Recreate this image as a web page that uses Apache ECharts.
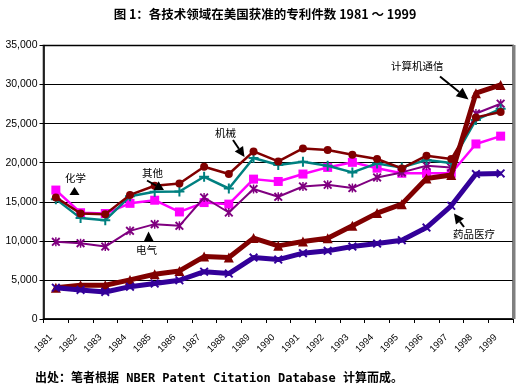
<!DOCTYPE html>
<html>
<head>
<meta charset="utf-8">
<script src="https://cdn.jsdelivr.net/npm/echarts@6/dist/echarts.min.js"></script>
<style>html,body{margin:0;padding:0;background:#fff;}#c{width:520px;height:390px;}</style>
</head>
<body>
<div id="c"></div>
<script>
var years = ['1981','1982','1983','1984','1985','1986','1987','1988','1989','1990','1991','1992','1993','1994','1995','1996','1997','1998','1999'];
var yTicks = [0, 5000, 10000, 15000, 20000, 25000, 30000, 35000];
var chemical = [16500, 13600, 13500, 14800, 15200, 13700, 14900, 14700, 17900, 17600, 18550, 19400, 20050, 19300, 18650, 18650, 18650, 22400, 23400];
var mechanical = [15560, 13500, 13420, 15880, 17050, 17350, 19490, 18550, 21450, 20170, 21830, 21620, 21020, 20470, 19270, 20900, 20470, 25800, 26500];
var others = [15340, 12910, 12650, 15700, 16280, 16320, 18200, 16700, 20600, 19700, 20130, 19610, 18760, 19910, 19400, 20340, 19960, 25470, 26900];
var electrical = [9870, 9700, 9270, 11280, 12140, 11920, 15550, 13630, 16630, 15640, 16960, 17180, 16750, 18120, 18760, 19610, 19400, 26300, 27550];
var computers = [4010, 4320, 4320, 5000, 5730, 6150, 7990, 7860, 10350, 9360, 9910, 10340, 11920, 13550, 14700, 17990, 18420, 28900, 29950];
var drugs = [4010, 3720, 3460, 4140, 4530, 4960, 6060, 5810, 7860, 7600, 8420, 8720, 9270, 9650, 10090, 11700, 14490, 18550, 18630];

var symX = 'path://M0,1.5 L1.5,0 L5,3.5 L8.5,0 L10,1.5 L6.5,5 L10,8.5 L8.5,10 L5,6.5 L1.5,10 L0,8.5 L3.5,5 Z';
var symPlus = 'path://M4,0 H6 V4 H10 V6 H6 V10 H4 V6 H0 V4 H4 Z';
var symStar = 'path://M0,1.5 L1.5,0 L5,3.5 L8.5,0 L10,1.5 L6.5,5 L10,8.5 L8.5,10 L5,6.5 L1.5,10 L0,8.5 L3.5,5 Z M4.2,0 H5.8 V10 H4.2 Z';

function arrow(x1, y1, x2, y2, L, W) {
  var dx = x2 - x1, dy = y2 - y1, d = Math.sqrt(dx*dx + dy*dy);
  var ux = dx / d, uy = dy / d, nx = -uy, ny = ux;
  var bx = x2 - L*ux, by = y2 - L*uy;
  return [
    {type: 'line', shape: {x1: x1, y1: y1, x2: bx, y2: by}, style: {stroke: '#000', lineWidth: 2}, z: 100},
    {type: 'polygon', shape: {points: [[x2, y2], [bx + W*nx, by + W*ny], [bx - W*nx, by - W*ny]]}, style: {fill: '#000'}, z: 100}
  ];
}
function tri(tx, ty, x1, y1, x2, y2) {
  return {type: 'polygon', shape: {points: [[tx, ty], [x1, y1], [x2, y2]]}, style: {fill: '#000'}, z: 100};
}
function label(t, x, y) {
  return {type: 'text', x: x, y: y, style: {text: t, fill: '#000', font: '10.5px "Noto Sans CJK SC"', textAlign: 'left', textVerticalAlign: 'middle'}, z: 100};
}

var graphics = [
  {type: 'text', x: 265, y: 14, style: {text: '图 1：各技术领域在美国获准的专利件数 1981 ～ 1999', fill: '#000', font: 'bold 12.5px "Noto Sans CJK SC"', textAlign: 'center', textVerticalAlign: 'middle'}},
  {type: 'text', x: 35, y: 379, style: {text: '出处：笔者根据 NBER Patent Citation Database 计算而成。', fill: '#000', font: 'bold 12px "DejaVu Sans Mono", "Noto Sans CJK SC"', textAlign: 'left', textVerticalAlign: 'middle'}},
  label('化学', 65, 178),
  tri(74.5, 187, 69.5, 195, 79.5, 195),
  label('其他', 142, 173),
  label('机械', 215, 133),
  label('电气', 136, 250),
  tri(148.5, 231.5, 144, 241, 153.5, 241),
  label('计算机通信', 391, 66),
  label('药品医疗', 453, 234),
  {type: 'line', shape: {x1: 514, y1: 45, x2: 514, y2: 319}, style: {stroke: '#808080', lineWidth: 3}, z: 50}
];
graphics = graphics.concat(arrow(147, 180.5, 164, 190, 9, 5));
graphics = graphics.concat(arrow(233, 140, 244.5, 157, 10, 5));
graphics = graphics.concat(arrow(440, 76.5, 468.5, 99.5, 12, 5.5));
graphics = graphics.concat(arrow(464, 227, 454, 213.5, 10, 5));

function line(name, data, color, width, symbol, size, z) {
  return {
    name: name, type: 'line', data: data, symbol: symbol, symbolSize: size, showSymbol: true,
    lineStyle: {color: color, width: width}, itemStyle: {color: color, borderWidth: 0, opacity: 1},
    emphasis: {disabled: true}, animation: false, z: z
  };
}

var chart = echarts.init(document.getElementById('c'), null, {renderer: 'canvas'});
chart.setOption({
  animation: false,
  backgroundColor: '#fff',
  grid: {left: 43.5, right: 7, top: 45.5, bottom: 71, show: true, borderColor: '#808080', borderWidth: 2, backgroundColor: 'transparent'},
  xAxis: {
    type: 'category', data: years, boundaryGap: true,
    axisLine: {show: true, lineStyle: {color: '#000', width: 1.5}},
    axisTick: {show: true, interval: 0, length: 4, lineStyle: {color: '#000', width: 1}},
    axisLabel: {interval: 0, rotate: 45, fontSize: 9.5, color: '#000', fontFamily: 'Liberation Sans', margin: 12, padding: [0, 7, 0, 0]},
    splitLine: {show: false}
  },
  yAxis: {
    type: 'value', min: yTicks[0], max: yTicks[yTicks.length - 1], interval: 5000,
    axisLine: {show: true, lineStyle: {color: '#000', width: 1.5}},
    axisTick: {show: true, length: 4, lineStyle: {color: '#000'}},
    axisLabel: {fontSize: 10.5, color: '#000', fontFamily: 'Liberation Sans', margin: 6,
      formatter: function (v) { return v.toLocaleString('en-US'); }},
    splitLine: {show: true, lineStyle: {color: '#000', width: 1}}
  },
  series: [
    line('化学', chemical, '#FF00FF', 2.5, 'rect', 9, 3),
    line('电气', electrical, '#800080', 2, symStar, 9, 4),
    line('其他', others, '#008080', 2.5, symPlus, 10, 5),
    line('机械', mechanical, '#800000', 2.5, 'circle', 8, 6),
    line('计算机通信', computers, '#800000', 5, 'triangle', 10, 7),
    line('药品医疗', drugs, '#330099', 5, symX, 9, 8)
  ],
  graphic: graphics
});
</script>
</body>
</html>
